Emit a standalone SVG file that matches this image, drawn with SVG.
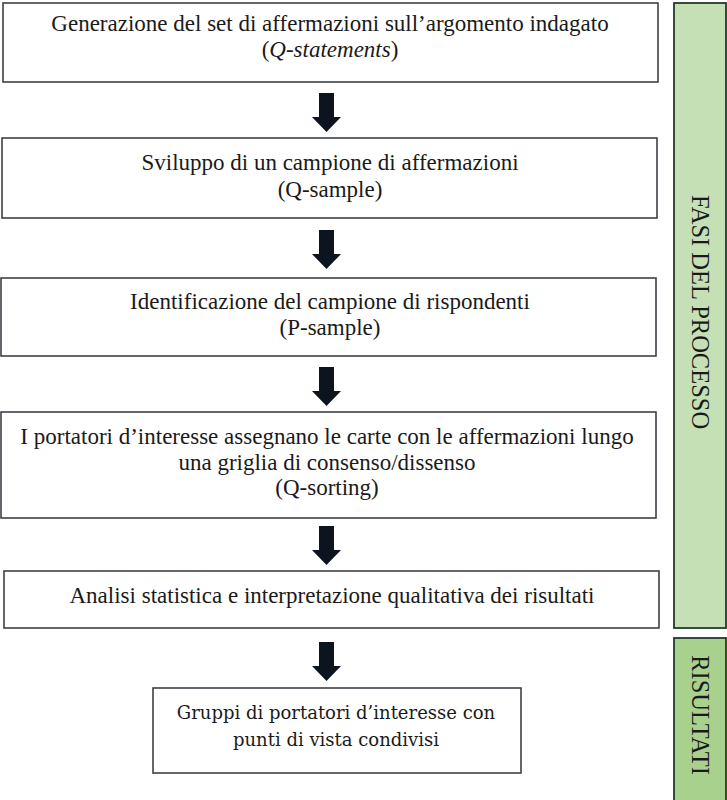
<svg xmlns="http://www.w3.org/2000/svg" width="727" height="800" viewBox="0 0 727 800">
<style>
.box{fill:#ffffff;stroke:#3d4247;stroke-width:1.6}
.t{font-family:"Liberation Serif","Times New Roman",serif;font-size:23px;fill:#1a1a1a;text-anchor:middle}
.p{font-family:"Liberation Serif","Times New Roman",serif;font-size:24.5px;fill:#1a1a1a;text-anchor:middle}
.t6{font-family:"DejaVu Serif","Liberation Serif",serif;font-size:18px;fill:#1a1a1a;text-anchor:middle}
.panel1{fill:#c5e0b4;stroke:#223a2c;stroke-width:1.8}
.panel2{fill:#a9d18e;stroke:#223a2c;stroke-width:1.8}
.arrow{fill:#0c1420}
</style>
<defs>
<path id="arr" d="M-7.5,0 H7.5 V24 H14.5 L0,39 L-14.5,24 H-7.5 Z"/>
</defs>
<rect width="727" height="800" fill="#ffffff"/>
<g id="panel-fasi">
<rect class="panel1" x="674" y="3" width="52" height="625"/>
<text class="p" transform="translate(692,312) rotate(90)">FASI DEL PROCESSO</text>
</g>
<g id="panel-risultati">
<rect class="panel2" x="674" y="638" width="52" height="170"/>
<text class="p" transform="translate(692,715) rotate(90)">RISULTATI</text>
</g>
<g id="n1">
<rect class="box" x="3" y="3" width="655" height="79"/>
<text class="t" x="330" y="31">Generazione del set di affermazioni sull’argomento indagato</text>
<text class="t" x="330" y="57">(<tspan font-style="italic">Q-statements</tspan>)</text>
</g>
<g id="n2">
<rect class="box" x="2" y="138" width="655" height="80"/>
<text class="t" x="330" y="170">Sviluppo di un campione di affermazioni</text>
<text class="t" x="330" y="197">(Q-sample)</text>
</g>
<g id="n3">
<rect class="box" x="1" y="278" width="655" height="78"/>
<text class="t" x="330" y="309">Identificazione del campione di rispondenti</text>
<text class="t" x="330" y="335">(P-sample)</text>
</g>
<g id="n4">
<rect class="box" x="1" y="412" width="655" height="106"/>
<text class="t" x="327" y="444">I portatori d’interesse assegnano le carte con le affermazioni lungo</text>
<text class="t" x="327" y="470">una griglia di consenso/dissenso</text>
<text class="t" x="327" y="495">(Q-sorting)</text>
</g>
<g id="n5">
<rect class="box" x="4" y="571" width="655" height="57"/>
<text class="t" x="332" y="603">Analisi statistica e interpretazione qualitativa dei risultati</text>
</g>
<g id="n6">
<rect class="box" x="153" y="688" width="368" height="85"/>
<text class="t6" x="336" y="719">Gruppi di portatori d’interesse con</text>
<text class="t6" x="336" y="746">punti di vista condivisi</text>
</g>
<g id="connectors">
<use href="#arr" class="arrow" transform="translate(326.5,93)"/>
<use href="#arr" class="arrow" transform="translate(326.5,230)"/>
<use href="#arr" class="arrow" transform="translate(326.5,367)"/>
<use href="#arr" class="arrow" transform="translate(326.5,526)"/>
<use href="#arr" class="arrow" transform="translate(326.5,642)"/>
</g>
</svg>
